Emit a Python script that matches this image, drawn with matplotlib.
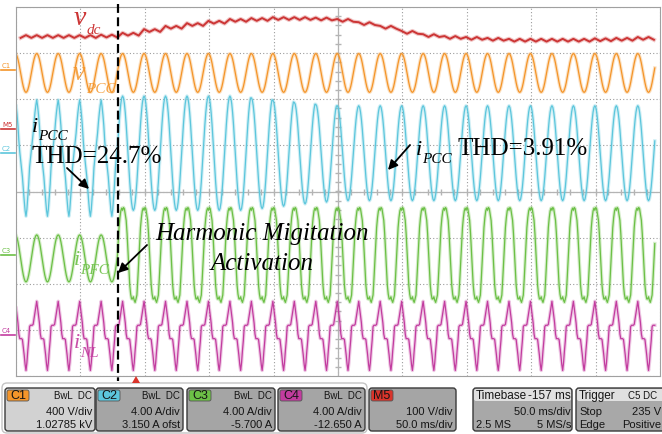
import numpy as np
import matplotlib.pyplot as plt
from matplotlib.patches import FancyBboxPatch, Polygon
from matplotlib.lines import Line2D
from matplotlib.transforms import IdentityTransform

W, H = 662, 435

# scope screen: 10 div x 50 ms, 8 div vertical; all trace values below in divisions
PERIOD = 1000 / 60          # ms, 60 Hz mains
T_FIRST_PEAK = -0.57        # ms, first vPCC peak
T_EVENT = 79.0              # ms, harmonic migitation activated
T_END = 496.0
CYCLES = np.arange(-1, 31)

# one mains cycle, 24 samples, starting at the voltage peak
COS_CYCLE = [1.0, 0.966, 0.866, 0.707, 0.5, 0.259, 0.0, -0.259, -0.5, -0.707, -0.866, -0.966,
             -1.0, -0.966, -0.866, -0.707, -0.5, -0.259, 0.0, 0.259, 0.5, 0.707, 0.866, 0.966]
INL_CYCLE = [0.61, 0.46, 0.30, 0.14, -0.10, -0.20, -0.20, -0.20, -0.22, -0.38, -0.56, -0.76,
             -0.89, -0.72, -0.46, -0.24, 0.06, 0.09, 0.09, 0.09, 0.11, 0.24, 0.36, 0.48]

VPCC_CENTER, VPCC_AMP = 2.57, 0.42
IPCC_CENTER = 0.83
IPCC_PRE_SINE, IPCC_PRE_NL = 0.70, 0.75
IPCC_POST_AMP = [1.24] * 12 + [1.20, 1.15, 1.10, 1.06] + [1.03] * 16
IPFC_CENTER = -1.45
IPFC_PRE_AMP = 0.51
IPFC_POST_AMP, IPFC_POST_NL = 1.5, 0.75
INL_CENTER = -2.99
VDC_LEVEL = [3.36, 3.36, 3.36, 3.36, 3.36, 3.37, 3.41, 3.49, 3.56, 3.62, 3.67, 3.71, 3.73, 3.75,
             3.75, 3.74, 3.71, 3.64, 3.56, 3.45, 3.38, 3.34, 3.32, 3.30, 3.28, 3.28, 3.28, 3.28,
             3.29, 3.30, 3.32, 3.32]
VDC_RIPPLE = [0.03, -0.03, 0.03, -0.03]

C_DC, C_V, C_IPCC, C_IPFC, C_INL = '#cc3535', '#f4952a', '#5cc6dc', '#6cc046', '#c23c9f'

fig = plt.figure(figsize=(W / 100, H / 100), dpi=100)
fig.patch.set_facecolor('white')
ax = fig.add_axes([16 / W, (H - 377) / H, 644 / W, 369 / H])
ax.set_xlim(0, 500)
ax.set_ylim(-4, 4)
ax.set_xticks(np.arange(0, 501, 50))
ax.set_yticks(np.arange(-4, 5, 1))
ax.tick_params(length=0, labelbottom=False, labelleft=False)
ax.grid(True, color='#9c9c9c', lw=0.8, ls=(0, (1, 2)))
for s in ax.spines.values():
    s.set_color('#a0a0a0')
ax.axhline(0, color='#b4b4b4', lw=0.9)
ax.axvline(250, color='#b4b4b4', lw=0.9)
ax.plot(np.arange(10, 500, 10), np.zeros(49), ls='none', marker='|', ms=4, color='#b4b4b4')
ax.plot(np.full(39, 250), np.arange(-3.8, 4, 0.2), ls='none', marker='_', ms=4, color='#b4b4b4')

# build traces from the one-cycle shapes
phase = np.arange(24) / 24
t = (T_FIRST_PEAK + (CYCLES[:, None] + phase) * PERIOD).ravel()
cos_w = np.tile(COS_CYCLE, len(CYCLES))
nl_w = np.tile(INL_CYCLE, len(CYCLES))
amp = np.repeat(IPCC_POST_AMP, 24)
post = t >= T_EVENT
keep = (t >= 0) & (t <= T_END)

v_pcc = VPCC_CENTER + VPCC_AMP * cos_w
i_pcc = IPCC_CENTER + np.where(post, amp * cos_w, IPCC_PRE_SINE * cos_w + IPCC_PRE_NL * nl_w)
i_pfc = IPFC_CENTER + np.where(post, IPFC_POST_AMP * cos_w - IPFC_POST_NL * nl_w,
                               IPFC_PRE_AMP * cos_w)
i_nl = INL_CENTER + nl_w

q = np.arange(4) / 4
t_dc = (T_FIRST_PEAK + (CYCLES[:, None] + q) * PERIOD).ravel()
v_dc = (np.array(VDC_LEVEL)[:, None] + np.array(VDC_RIPPLE)).ravel()
keep_dc = (t_dc >= 0) & (t_dc <= T_END)


def trace(x, y, c, lw=0.9):
    ax.plot(x, y, color=c, lw=lw + 1.6, alpha=0.28, solid_joinstyle='round')
    ax.plot(x, y, color=c, lw=lw)


trace(t_dc[keep_dc], v_dc[keep_dc], C_DC, lw=1.4)
trace(t[keep], v_pcc[keep], C_V)
trace(t[keep], i_pcc[keep], C_IPCC)
trace(t[keep], i_pfc[keep], C_IPFC)
trace(t[keep], i_nl[keep], C_INL)


def P(x, y):
    return (x / W, 1 - y / H)


# channel markers on the left
for name, ty, c in [('C1', 66, C_V), ('M5', 125, C_DC), ('C2', 149, C_IPCC),
                    ('C3', 251, C_IPFC), ('C4', 331, C_INL)]:
    fig.text(*P(2, ty), name, fontsize=5, color=c, va='center', ha='left')
    fig.add_artist(Line2D([1 / W, 15 / W], [1 - (ty + 5) / H] * 2, color=c, lw=1.2))

# annotations
serif = 'Liberation Serif'


def sym(x, y, main, sub, c, size, sx, sy, alpha=1.0):
    fig.text(*P(x, y), main, fontsize=size, family=serif, style='italic', color=c,
             alpha=alpha, va='baseline')
    fig.text(*P(sx, sy), sub, fontsize=11, family=serif, style='italic', color=c,
             alpha=alpha, va='baseline')


sym(74, 25, 'v', 'dc', C_DC, 20, 87, 34)
sym(73, 80, 'v', 'PCC', C_V, 20, 86, 93, alpha=0.85)
sym(32, 132, 'i', 'PCC', 'k', 16, 38, 140)
sym(416, 155, 'i', 'PCC', 'k', 16, 422, 163)
sym(74, 265, 'i', 'PFC', C_IPFC, 16, 80, 274, alpha=0.9)
sym(74, 348, 'i', 'NL', C_INL, 16, 80, 357, alpha=0.9)
fig.text(*P(32, 163), 'THD=24.7%', fontsize=18, family=serif, va='baseline')
fig.text(*P(458, 155), 'THD=3.91%', fontsize=18, family=serif, va='baseline')
fig.text(*P(155, 240), 'Harmonic Migitation', fontsize=18, family=serif, style='italic',
         va='baseline')
fig.text(*P(210, 270), 'Activation', fontsize=18, family=serif, style='italic', va='baseline')

for tail, tip in [((67, 169), (89, 190)), ((410, 146), (388, 171)), ((147, 246), (118, 274))]:
    ax.annotate('', xy=P(*tip), xytext=P(*tail), xycoords='figure fraction',
                textcoords='figure fraction',
                arrowprops=dict(arrowstyle='-|>', color='k', lw=1.3, mutation_scale=14,
                                shrinkA=0, shrinkB=0))

# status bar
ID = IdentityTransform()


def rbox(x0, y0, x1, y1, fc, ec='#3a3a3a', r=3, lw=1.0, z=2):
    p = FancyBboxPatch((x0, H - y1), x1 - x0, y1 - y0,
                       boxstyle=f'round,pad=0,rounding_size={r}',
                       fc=fc, ec=ec, lw=lw, transform=ID, zorder=z)
    fig.add_artist(p)


def txt(x, y, s, ha='right', size=8, **kw):
    fig.text(x, H - y, s, transform=ID, ha=ha, va='center', fontsize=size,
             family='Liberation Sans', color='#151515', **kw)


rbox(2, 384, 367, 434, 'none', ec='#c4c4c4', r=5)
channels = [
    (5, 95, 'C1', C_V, '#d2d2d2', 'BwL  DC', '400 V/div', '1.02785 kV'),
    (96, 183, 'C2', C_IPCC, '#a5a5a5', 'BwL  DC', '4.00 A/div', '3.150 A ofst'),
    (187, 275, 'C3', C_IPFC, '#a5a5a5', 'BwL  DC', '4.00 A/div', '-5.700 A'),
    (278, 365, 'C4', C_INL, '#a5a5a5', 'BwL  DC', '4.00 A/div', '-12.650 A'),
    (369, 456, 'M5', '#d9342b', '#a5a5a5', '', '100 V/div', '50.0 ms/div'),
]
for x0, x1, tag, tc, fc, top, l1, l2 in channels:
    rbox(x0, 389, x1, 432, fc)
    rbox(x0 + 2, 391, x0 + 24, 402, tc, ec='#555555', r=2, lw=0.6, z=3)
    txt(x0 + 13, 396.5, tag, ha='center', size=9)
    if top:
        txt(x1 - 3, 396, top, size=7)
    txt(x1 - 3, 412, l1)
    txt(x1 - 3, 425, l2)

for x0, x1, head_l, head_r, rows in [
        (473, 572, 'Timebase', '-157 ms', [('', '50.0 ms/div'), ('2.5 MS', '5 MS/s')]),
        (576, 680, 'Trigger', 'C5 DC', [('Stop', '235 V'), ('Edge', 'Positive')])]:
    rbox(x0, 389, x1, 432, '#a8a8a8')
    fig.add_artist(FancyBboxPatch((x0 + 1, H - 402), x1 - x0 - 2, 12,
                                  boxstyle='round,pad=0,rounding_size=2', fc='#e0e0e0',
                                  ec='none', transform=ID, zorder=3))
    right = min(x1 - 1, 661)
    txt(x0 + 3, 396, head_l, ha='left', size=8.5)
    txt(right if x1 < 600 else 657, 396, head_r, size=8.5 if x1 < 600 else 7)
    for (lt, rt), yy in zip(rows, [412, 425]):
        if lt:
            txt(x0 + 3, yy, lt, ha='left')
        txt(right, yy, rt)

# trigger marker and activation instant
fig.add_artist(Polygon([(132, H - 384), (140, H - 384), (136, H - 377)], closed=True,
                       fc='#d9342b', ec='none', transform=ID, zorder=5))
fig.add_artist(Line2D([118, 118], [H - 5, H - 382], color='k', lw=1.6, dashes=(4, 2),
                      transform=ID, zorder=6))

fig.savefig('out.png', dpi=100)
